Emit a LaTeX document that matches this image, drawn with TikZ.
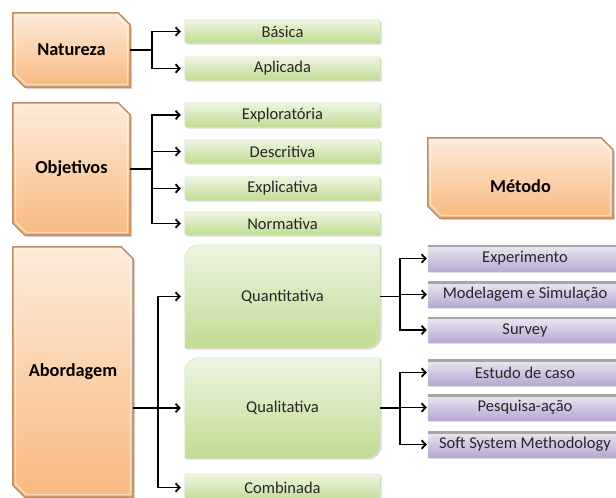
\documentclass[tikz,border=0pt]{standalone}
\usepackage{fontspec}
\setmainfont{Carlito}
\usetikzlibrary{arrows.meta,shadows,backgrounds,calc}
\definecolor{orTop}{HTML}{FDEBDA}
\definecolor{orBot}{HTML}{F8B97F}
\definecolor{orLine}{HTML}{C08C60}
\definecolor{grTop}{HTML}{EEF5E2}
\definecolor{grBot}{HTML}{C0DC92}
\definecolor{grLine}{HTML}{D5E3BE}
\definecolor{puTop}{HTML}{ECE7F2}
\definecolor{puBot}{HTML}{B8A8D2}
\definecolor{txt}{HTML}{262626}
\tikzset{
  lbl/.style={inner sep=0pt, font=\fontsize{16.5}{18}\selectfont, text=txt},
  blbl/.style={inner sep=0pt, font=\fontsize{18.3}{20}\selectfont\bfseries, text=black},
  orangefill/.style={top color=orTop, bottom color=orBot, draw=orLine, line width=1.5pt,
     drop shadow={opacity=0.35, shadow xshift=2pt, shadow yshift=-2pt}},
  orangeinner/.style={draw=white, opacity=0.7, line width=0.8pt},
  greenfill/.style={top color=grTop, bottom color=grBot, draw=grLine, line width=0.6pt,
     drop shadow={opacity=0.3, shadow xshift=1.5pt, shadow yshift=-1.5pt}},
  purplefill/.style={top color=puTop, bottom color=puBot, draw=none,
     drop shadow={opacity=0.25, shadow xshift=1.5pt, shadow yshift=-1.5pt}},
  arr/.style={line width=1.8pt, -{Straight Barb[length=4pt,width=8.5pt]}, shorten >=4pt},
  arrp/.style={line width=1.8pt, -{Straight Barb[length=4pt,width=8.5pt]}, shorten >=1pt},
  ln/.style={line width=1.8pt},
}
\newcommand\orangeshape[1]{%
  \path[orangefill] (#1.north west) -- ([xshift=-12pt]#1.north east) -- ([yshift=-12pt]#1.north east)
     -- (#1.south east) -- ([xshift=12pt]#1.south west) -- ([yshift=12pt]#1.south west) -- cycle;
  \path[orangeinner] ([shift={(3pt,-3pt)}]#1.north west) -- ([shift={(-13.2pt,-3pt)}]#1.north east)
     -- ([shift={(-3pt,-13.2pt)}]#1.north east) -- ([shift={(-3pt,3pt)}]#1.south east)
     -- ([shift={(13.2pt,3pt)}]#1.south west) -- ([shift={(3pt,13.2pt)}]#1.south west) -- cycle;}
\newcommand\greenshape[1]{%
  \path[greenfill, rounded corners=2pt] (#1.south west) rectangle (#1.north east);}
\newcommand\greenbig[1]{%
  \path[greenfill] (#1.south west) -- ([yshift=-14pt]#1.north west)
     arc[start angle=180, end angle=90, radius=14pt] -- (#1.north east)
     -- ([yshift=14pt]#1.south east) arc[start angle=0, end angle=-90, radius=14pt] -- cycle;}
\newcommand\purpleshape[1]{%
  \path[purplefill] (#1.south west) rectangle (#1.north east);
  \draw[black!35, line width=2.2pt] ([yshift=-0.6pt]#1.north west) -- ([yshift=-0.6pt]#1.north east);}
\begin{document}
\begin{tikzpicture}[x=1pt,y=1pt]
\useasboundingbox (0,0) rectangle (616,-498);
% orange boxes
\node[blbl, minimum width=117pt, minimum height=74pt] (nat) at (71.5,-50) {Natureza};
\node[blbl, minimum width=117pt, minimum height=132pt] (obj) at (71.5,-169) {Objetivos};
\node[blbl, minimum width=120pt, minimum height=250pt] (abo) at (73,-372) {Abordagem};
\node[blbl, minimum width=185pt, minimum height=80pt] (met) at (520.5,-178) {};
\node[blbl] (mett) at (520.5,-186) {Método};
% green boxes
\node[lbl, minimum width=195pt, minimum height=23pt] (bas) at (282.5,-31.5) {Básica};
\node[lbl, minimum width=195pt, minimum height=23pt] (apl) at (282.5,-68.5) {Aplicada};
\node[lbl, minimum width=195pt, minimum height=24pt] (exp) at (282.5,-115) {Exploratória};
\node[lbl, minimum width=195pt, minimum height=23pt] (des) at (282.5,-151.5) {Descritiva};
\node[lbl, minimum width=195pt, minimum height=23pt] (expl) at (282.5,-188.5) {Explicativa};
\node[lbl, minimum width=195pt, minimum height=23pt] (nor) at (282.5,-223.5) {Normativa};
\node[lbl, minimum width=195pt, minimum height=103pt] (quan) at (282.5,-296.5) {Quantitativa};
\node[lbl, minimum width=195pt, minimum height=100pt] (qual) at (282.5,-408) {Qualitativa};
\node[lbl, minimum width=195pt, minimum height=27pt] (comb) at (282.5,-487.5) {Combinada};
% purple boxes
\node[lbl, minimum width=194pt, minimum height=26pt] (e1) at (525,-258.5) {Experimento};
\node[lbl, minimum width=194pt, minimum height=25pt] (e2) at (525,-294.5) {Modelagem e Simulação};
\node[lbl, minimum width=194pt, minimum height=25pt] (e3) at (525,-330) {Survey};
\node[lbl, minimum width=194pt, minimum height=25pt] (e4) at (525,-372.5) {Estudo de caso};
\node[lbl, minimum width=194pt, minimum height=25pt] (e5) at (525,-407.5) {Pesquisa-ação};
\node[lbl, minimum width=194pt, minimum height=25pt] (e6) at (525,-444.5) {Soft System Methodology};
\begin{scope}[on background layer]
  \orangeshape{nat}\orangeshape{obj}\orangeshape{abo}\orangeshape{met}
  \greenshape{bas}\greenshape{apl}\greenshape{exp}\greenshape{des}\greenshape{expl}\greenshape{nor}
  \greenshape{comb}\greenbig{quan}\greenbig{qual}
  \purpleshape{e1}\purpleshape{e2}\purpleshape{e3}\purpleshape{e4}\purpleshape{e5}\purpleshape{e6}
\end{scope}
% connectors
\coordinate (jn) at ($(nat.east)+(22,0)$);
\draw[ln] (nat.east) -- (jn);
\draw[arr] (jn) |- (bas.west);
\draw[arr] (jn) |- (apl.west);
\coordinate (jo) at ($(obj.east)+(22,0)$);
\draw[ln] (obj.east) -- (jo);
\foreach \t in {exp,des,expl,nor} \draw[arr] (jo) |- (\t.west);
\coordinate (ja) at (158,0);
\draw[arr] (abo.east |- qual.west) -- (qual.west);
\draw[arr] (ja |- qual.west) |- (quan.west);
\draw[arr] (ja |- qual.west) |- (comb.west);
\coordinate (jq) at ($(quan.east)+(20,0)$);
\draw[ln] (quan.east) -- (jq);
\foreach \t in {e1,e2,e3} \draw[arrp] (jq) |- (\t.west);
\coordinate (jl) at ($(qual.east)+(20,0)$);
\draw[ln] (qual.east) -- (jl);
\foreach \t in {e4,e5,e6} \draw[arrp] (jl) |- (\t.west);
\end{tikzpicture}
\end{document}
